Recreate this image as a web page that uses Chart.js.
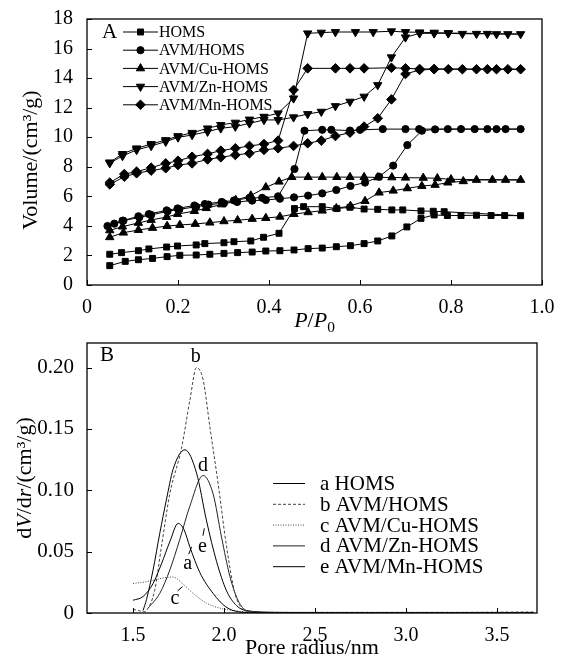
<!DOCTYPE html>
<html>
<head>
<meta charset="utf-8">
<script src="https://cdn.jsdelivr.net/npm/chart.js@4/dist/chart.umd.min.js"></script>
<style>
  body { margin: 0; background: #fff; }
  #wrap { position: relative; width: 561px; height: 660px; }
  canvas { position: absolute; left: 0; }
</style>
</head>
<body>
<div id="wrap">
  <canvas id="chartA" width="561" height="340" style="top:0"></canvas>
  <canvas id="chartB" width="561" height="330" style="top:330px"></canvas>
</div>
<script>
// ---- panel A: N2 isotherms (adsorption / desorption branches) ----
const seriesNames = ["HOMS", "AVM/HOMS", "AVM/Cu-HOMS", "AVM/Zn-HOMS", "AVM/Mn-HOMS"];

const homsAdsP = [0.050,0.084,0.113,0.144,0.176,0.204,0.240,0.270,0.301,0.331,0.363,0.393,0.424,0.455,0.486,0.517,0.548,0.579,0.609,0.639,0.670,0.703,0.734,0.763,0.792,0.822,0.856,0.888,0.918,0.953];
const homsAdsV = [1.31,1.60,1.71,1.80,1.92,2.01,2.03,2.08,2.14,2.19,2.23,2.30,2.32,2.37,2.46,2.50,2.59,2.66,2.80,2.98,3.32,3.93,4.51,4.74,4.70,4.70,4.72,4.70,4.70,4.69];
const homsDesP = [0.050,0.076,0.113,0.136,0.175,0.199,0.240,0.259,0.301,0.323,0.360,0.388,0.422,0.456,0.476,0.517,0.549,0.578,0.609,0.639,0.670,0.694,0.734,0.761,0.785];
const homsDesV = [2.08,2.19,2.32,2.44,2.57,2.64,2.71,2.80,2.86,2.93,2.98,3.23,3.50,5.17,5.30,5.30,5.17,5.26,5.14,5.12,5.08,5.08,5.01,4.99,4.96];

const avmAdsP = [0.045,0.080,0.115,0.141,0.177,0.203,0.240,0.267,0.301,0.330,0.363,0.393,0.424,0.455,0.486,0.517,0.548,0.579,0.611,0.642,0.673,0.704,0.736,0.765,0.793,0.822,0.852,0.880,0.900,0.920,0.953];
const avmAdsV = [3.99,4.35,4.58,4.74,4.99,5.12,5.30,5.44,5.53,5.62,5.71,5.75,5.84,5.93,6.05,6.20,6.43,6.70,6.93,7.33,8.08,9.47,10.44,10.53,10.55,10.55,10.55,10.55,10.55,10.55,10.55];
const avmDesP = [0.060,0.078,0.113,0.136,0.175,0.199,0.236,0.259,0.296,0.323,0.357,0.385,0.420,0.456,0.478,0.517,0.537,0.578,0.600,0.650,0.700,0.730];
const avmDesV = [4.15,4.35,4.65,4.80,5.05,5.18,5.38,5.48,5.62,5.72,5.90,5.90,6.00,7.85,10.44,10.50,10.50,10.45,10.50,10.55,10.55,10.55];

const cuAdsP = [0.050,0.080,0.113,0.144,0.176,0.204,0.238,0.270,0.301,0.331,0.363,0.393,0.424,0.455,0.486,0.517,0.548,0.579,0.611,0.642,0.673,0.704,0.736,0.765,0.793,0.827,0.856,0.891,0.920,0.953];
const cuAdsV = [3.23,3.54,3.72,3.86,3.99,4.06,4.13,4.22,4.31,4.38,4.47,4.53,4.62,4.80,4.92,5.03,5.19,5.35,5.68,6.25,6.38,6.54,6.70,6.77,6.93,7.02,7.11,7.11,7.11,7.11];
const cuDesP = [0.050,0.078,0.113,0.141,0.175,0.199,0.236,0.262,0.296,0.327,0.360,0.393,0.422,0.450,0.486,0.517,0.549,0.578,0.609,0.639,0.670,0.700,0.739,0.770,0.800];
const cuDesV = [3.70,3.95,4.20,4.40,4.60,4.80,5.00,5.20,5.45,5.75,6.05,6.61,6.99,7.30,7.30,7.30,7.30,7.30,7.30,7.28,7.28,7.26,7.25,7.22,7.15];

const znAdsP = [0.050,0.078,0.109,0.141,0.173,0.200,0.231,0.265,0.294,0.326,0.357,0.389,0.420,0.454,0.485,0.515,0.546,0.578,0.609,0.639,0.669,0.700,0.731,0.763,0.794,0.825,0.856,0.880,0.900,0.925,0.953];
const znAdsV = [8.25,8.73,9.14,9.41,9.70,9.99,10.15,10.38,10.60,10.72,10.94,11.17,11.17,11.35,11.57,11.73,12.11,12.41,12.75,13.53,15.41,16.76,17.03,17.03,17.03,17.00,17.00,17.00,16.98,16.98,16.98];
const znDesP = [0.050,0.078,0.109,0.141,0.173,0.200,0.231,0.265,0.294,0.326,0.357,0.389,0.420,0.454,0.485,0.515,0.546,0.590,0.629,0.669,0.700,0.731,0.763,0.794];
const znDesV = [8.30,8.87,9.25,9.54,9.81,10.08,10.30,10.60,10.83,10.99,11.20,11.39,11.62,12.63,17.03,17.08,17.12,17.12,17.12,17.17,17.12,17.10,17.08,17.05];

const mnAdsP = [0.050,0.082,0.109,0.141,0.173,0.200,0.231,0.265,0.294,0.326,0.357,0.389,0.420,0.454,0.485,0.515,0.546,0.578,0.609,0.639,0.669,0.700,0.731,0.763,0.794,0.825,0.856,0.880,0.900,0.925,0.953];
const mnAdsV = [6.81,7.33,7.56,7.74,7.90,8.12,8.23,8.50,8.64,8.80,8.91,9.14,9.25,9.41,9.59,9.77,10.08,10.31,10.72,11.28,12.56,14.28,14.55,14.60,14.60,14.60,14.60,14.60,14.60,14.60,14.60];
const mnDesP = [0.050,0.082,0.109,0.141,0.173,0.200,0.231,0.265,0.294,0.326,0.357,0.389,0.420,0.454,0.485,0.546,0.578,0.609,0.669,0.700,0.731,0.763];
const mnDesV = [6.93,7.51,7.67,7.94,8.23,8.41,8.68,8.87,9.09,9.25,9.41,9.54,9.77,13.20,14.66,14.66,14.66,14.66,14.70,14.66,14.62,14.62];

const xTicksA = [0, 0.2, 0.4, 0.6, 0.8, 1.0];
const yTicksA = [0, 2, 4, 6, 8, 10, 12, 14, 16, 18];

// ---- panel B: pore size distribution ----
const curveLetters = ["a", "b", "c", "d", "e"];
const aR = [1.50,1.555,1.61,1.656,1.702,1.748,1.78,1.812,1.867,1.94,2.01,2.08,2.2,2.5,3.0,3.5,3.7];
const aV = [0.0104,0.0134,0.024,0.040,0.058,0.073,0.068,0.054,0.033,0.016,0.005,0.001,0,0,0,0,0];
const bR = [1.50,1.53,1.56,1.574,1.619,1.656,1.702,1.766,1.812,1.849,1.885,1.922,1.968,2.014,2.06,2.097,2.15,2.3,2.7,3.2,3.7];
const bV = [0.003,0.002,0.001,0.002,0.0185,0.054,0.097,0.134,0.173,0.200,0.190,0.152,0.105,0.054,0.016,0.004,0.001,0.0005,0.0005,0.0005,0.0008];
const cR = [1.50,1.592,1.665,1.72,1.775,1.83,1.904,1.977,2.05,2.12,2.3,3.0,3.7];
const cV = [0.024,0.026,0.0285,0.0293,0.0235,0.016,0.008,0.004,0.002,0.001,0.0005,0.0005,0.0005];
const dR = [1.583,1.647,1.702,1.757,1.812,1.885,1.940,1.986,2.032,2.078,2.124,2.2,2.5,3.0,3.7];
const dV = [0.004,0.016,0.035,0.060,0.087,0.112,0.097,0.062,0.030,0.010,0.002,0.0005,0,0,0];
const eR = [1.555,1.574,1.610,1.647,1.683,1.72,1.785,1.849,1.904,1.959,2.014,2.069,2.12,2.3,3.0,3.7];
const eV = [0.002,0.011,0.035,0.065,0.092,0.117,0.133,0.114,0.075,0.042,0.018,0.006,0.002,0.0005,0,0];

const xTicksB = [1.5, 2.0, 2.5, 3.0, 3.5];
const yTicksB = [0, 0.05, 0.10, 0.15, 0.20];

// curve labels in panel B: [text, r, value]
const curveTags = [["b", 1.845, 0.209], ["d", 1.884, 0.120], ["e", 1.882, 0.054], ["a", 1.80, 0.0405], ["c", 1.73, 0.012]];
// short leader strokes next to labels a, e, c: [r1, v1, r2, v2]
const tagLeaders = [[1.806, 0.048, 1.822, 0.054], [1.884, 0.063, 1.892, 0.069], [1.745, 0.018, 1.772, 0.0215]];

const SERIF = "'Liberation Serif', 'DejaVu Serif', serif";

function loop(adsP, adsV, desP, desV) {
  const pts = adsP.map((p, i) => ({ x: p, y: adsV[i] }));
  for (let i = desP.length - 1; i >= 0; i--) pts.push({ x: desP[i], y: desV[i] });
  return pts;
}
function curve(r, v) {
  return r.map((x, i) => ({ x: x, y: v[i] }));
}

// draw rich text (italic / sub parts) centred at (cx, cy)
function richText(ctx, parts, cx, cy, size, angle) {
  ctx.save();
  ctx.translate(cx, cy);
  ctx.rotate(angle || 0);
  ctx.textBaseline = "middle";
  ctx.textAlign = "left";
  let w = 0;
  parts.forEach(p => {
    const s = p.sub ? size * 0.7 : size;
    ctx.font = (p.italic ? "italic " : "") + s + "px " + SERIF;
    p.w = ctx.measureText(p.t).width;
    p.s = s;
    w += p.w;
  });
  let x = -w / 2;
  parts.forEach(p => {
    ctx.font = (p.italic ? "italic " : "") + p.s + "px " + SERIF;
    ctx.fillStyle = "#000";
    ctx.fillText(p.t, x, p.sub ? size * 0.3 : 0);
    x += p.w;
  });
  ctx.restore();
}

function drawMarker(ctx, style, x, y, r, rot) {
  if (Chart.helpers && Chart.helpers.drawPoint) {
    ctx.fillStyle = "#000";
    ctx.strokeStyle = "#000";
    ctx.lineWidth = 1;
    Chart.helpers.drawPoint(ctx, { pointStyle: style, rotation: rot || 0, radius: r, borderWidth: 1 }, x, y);
  }
}

// frame + inward tick marks
const framePlugin = {
  id: "frame",
  afterDatasetsDraw(chart) {
    const { ctx, chartArea: a, scales } = chart;
    ctx.save();
    ctx.strokeStyle = "#000";
    ctx.lineWidth = 1.3;
    ctx.strokeRect(a.left, a.top, a.right - a.left, a.bottom - a.top);
    ctx.lineWidth = 1;
    ctx.beginPath();
    scales.x.ticks.forEach(t => {
      const px = Math.round(scales.x.getPixelForValue(t.value)) + 0.5;
      ctx.moveTo(px, a.bottom);
      ctx.lineTo(px, a.bottom - 5);
    });
    scales.y.ticks.forEach(t => {
      const py = Math.round(scales.y.getPixelForValue(t.value)) + 0.5;
      ctx.moveTo(a.left, py);
      ctx.lineTo(a.left + 5, py);
    });
    ctx.stroke();
    ctx.restore();
  }
};

function fixX(h) {
  return s => { s.height = h; s.paddingLeft = 0; s.paddingRight = 0; };
}
function fixY(w) {
  return s => { s.width = w; s.paddingTop = 0; s.paddingBottom = 0; };
}

const markerStyles = [
  { pointStyle: "rect", pointRadius: 4.2, pointRotation: 0 },
  { pointStyle: "circle", pointRadius: 3.6, pointRotation: 0 },
  { pointStyle: "triangle", pointRadius: 4.8, pointRotation: 0 },
  { pointStyle: "triangle", pointRadius: 4.8, pointRotation: 180 },
  { pointStyle: "rectRot", pointRadius: 4.8, pointRotation: 0 }
];

const loopsA = [
  loop(homsAdsP, homsAdsV, homsDesP, homsDesV),
  loop(avmAdsP, avmAdsV, avmDesP, avmDesV),
  loop(cuAdsP, cuAdsV, cuDesP, cuDesV),
  loop(znAdsP, znAdsV, znDesP, znDesV),
  loop(mnAdsP, mnAdsV, mnDesP, mnDesV)
];

const annotA = {
  id: "annotA",
  afterDraw(chart) {
    const ctx = chart.ctx;
    const a = chart.chartArea;
    ctx.save();
    ctx.fillStyle = "#000";
    ctx.font = "21px " + SERIF;
    ctx.textBaseline = "middle";
    ctx.textAlign = "left";
    ctx.fillText("A", 102, 32);
    seriesNames.forEach((n, i) => {
      const y = 32 + 18.2 * i;
      ctx.strokeStyle = "#000";
      ctx.lineWidth = 1;
      ctx.beginPath();
      ctx.moveTo(123, y);
      ctx.lineTo(158, y);
      ctx.stroke();
      const m = markerStyles[i];
      drawMarker(ctx, m.pointStyle, 140.5, y, m.pointRadius, m.pointRotation);
      ctx.fillStyle = "#000";
      ctx.font = "16px " + SERIF;
      ctx.textBaseline = "middle";
      ctx.fillText(n, 159, y + 1);
    });
    // axis titles
    richText(ctx, [{ t: "Volume/(cm\u00B3/g)" }], 31, 160, 22, -Math.PI / 2);
    richText(ctx, [{ t: "P", italic: true }, { t: "/" }, { t: "P", italic: true }, { t: "0", sub: true }], (a.left + a.right) / 2, 321, 22, 0);
    ctx.restore();
  }
};

new Chart(document.getElementById("chartA"), {
  type: "scatter",
  data: {
    datasets: loopsA.map((pts, i) => ({
      label: seriesNames[i],
      data: pts,
      showLine: true,
      borderColor: "#000",
      borderWidth: 1,
      backgroundColor: "#000",
      pointBackgroundColor: "#000",
      pointBorderColor: "#000",
      pointBorderWidth: 1,
      pointStyle: markerStyles[i].pointStyle,
      pointRadius: markerStyles[i].pointRadius,
      pointRotation: markerStyles[i].pointRotation,
      tension: 0
    }))
  },
  options: {
    responsive: false,
    animation: false,
    devicePixelRatio: 1,
    layout: { padding: { left: 0, right: 19, top: 19, bottom: 10 } },
    plugins: { legend: { display: false }, tooltip: { enabled: false } },
    scales: {
      x: {
        type: "linear", min: 0, max: 1,
        afterBuildTicks: s => { s.ticks = xTicksA.map(v => ({ value: v })); },
        afterFit: fixX(45),
        grid: { display: false }, border: { display: false },
        ticks: { color: "#000", font: { family: SERIF, size: 20 }, padding: 3, maxRotation: 0,
          callback: v => v === 0 ? "0" : v.toFixed(1) }
      },
      y: {
        type: "linear", min: 0, max: 18,
        afterBuildTicks: s => { s.ticks = yTicksA.map(v => ({ value: v })); },
        afterFit: fixY(87),
        grid: { display: false }, border: { display: false },
        ticks: { color: "#000", font: { family: SERIF, size: 20 }, padding: 6,
          callback: v => String(v) }
      }
    }
  },
  plugins: [framePlugin, annotA]
});

// ---- panel B ----
const curvesB = [curve(aR, aV), curve(bR, bV), curve(cR, cV), curve(dR, dV), curve(eR, eV)];
const lineStylesB = [
  { color: "#000", dash: [] },
  { color: "#444", dash: [3, 2] },
  { color: "#444", dash: [1, 1.5] },
  { color: "#222", dash: [] },
  { color: "#000", dash: [] }
];

const annotB = {
  id: "annotB",
  afterDraw(chart) {
    const ctx = chart.ctx;
    const a = chart.chartArea;
    const sx = chart.scales.x, sy = chart.scales.y;
    ctx.save();
    ctx.fillStyle = "#000";
    ctx.textBaseline = "middle";
    ctx.textAlign = "left";
    ctx.font = "21px " + SERIF;
    ctx.fillText("B", 100, 25);
    // curve tags
    ctx.font = "20px " + SERIF;
    ctx.textAlign = "center";
    curveTags.forEach(t => {
      ctx.fillText(t[0], sx.getPixelForValue(t[1]), sy.getPixelForValue(t[2]));
    });
    ctx.strokeStyle = "#000";
    ctx.lineWidth = 1;
    ctx.beginPath();
    tagLeaders.forEach(l => {
      ctx.moveTo(sx.getPixelForValue(l[0]), sy.getPixelForValue(l[1]));
      ctx.lineTo(sx.getPixelForValue(l[2]), sy.getPixelForValue(l[3]));
    });
    ctx.stroke();
    ctx.textAlign = "left";
    // legend
    seriesNames.forEach((n, i) => {
      const y = 153.5 + 20.8 * i;
      const ls = lineStylesB[i];
      ctx.strokeStyle = ls.color;
      ctx.lineWidth = 1;
      ctx.setLineDash(ls.dash);
      ctx.beginPath();
      ctx.moveTo(273, y);
      ctx.lineTo(305, y);
      ctx.stroke();
      ctx.setLineDash([]);
      ctx.fillStyle = "#000";
      ctx.font = "21px " + SERIF;
      ctx.fillText(curveLetters[i] + " " + n, 320, y + 1);
    });
    richText(ctx, [{ t: "d" }, { t: "V", italic: true }, { t: "/d" }, { t: "r", italic: true }, { t: "/(cm\u00B3/g)" }], 25, 148, 22, -Math.PI / 2);
    richText(ctx, [{ t: "Pore radius/nm" }], (a.left + a.right) / 2, 318, 22, 0);
    ctx.restore();
  }
};

new Chart(document.getElementById("chartB"), {
  type: "scatter",
  data: {
    datasets: curvesB.map((pts, i) => ({
      label: curveLetters[i] + " " + seriesNames[i],
      data: pts,
      showLine: true,
      borderColor: lineStylesB[i].color,
      borderDash: lineStylesB[i].dash,
      borderWidth: 1,
      pointRadius: 0,
      cubicInterpolationMode: "monotone"
    }))
  },
  options: {
    responsive: false,
    animation: false,
    devicePixelRatio: 1,
    layout: { padding: { left: 0, right: 24, top: 13, bottom: 0 } },
    plugins: { legend: { display: false }, tooltip: { enabled: false } },
    scales: {
      x: {
        type: "linear", min: 1.247, max: 3.72,
        afterBuildTicks: s => { s.ticks = xTicksB.map(v => ({ value: v })); },
        afterFit: fixX(47),
        grid: { display: false }, border: { display: false },
        ticks: { color: "#000", font: { family: SERIF, size: 20 }, padding: 3, maxRotation: 0,
          callback: v => v.toFixed(1) }
      },
      y: {
        type: "linear", min: 0, max: 0.22,
        afterBuildTicks: s => { s.ticks = yTicksB.map(v => ({ value: v })); },
        afterFit: fixY(87),
        grid: { display: false }, border: { display: false },
        ticks: { color: "#000", font: { family: SERIF, size: 21 }, padding: 5,
          callback: v => v === 0 ? "0" : v.toFixed(2) }
      }
    }
  },
  plugins: [framePlugin, annotB]
});
</script>
</body>
</html>
